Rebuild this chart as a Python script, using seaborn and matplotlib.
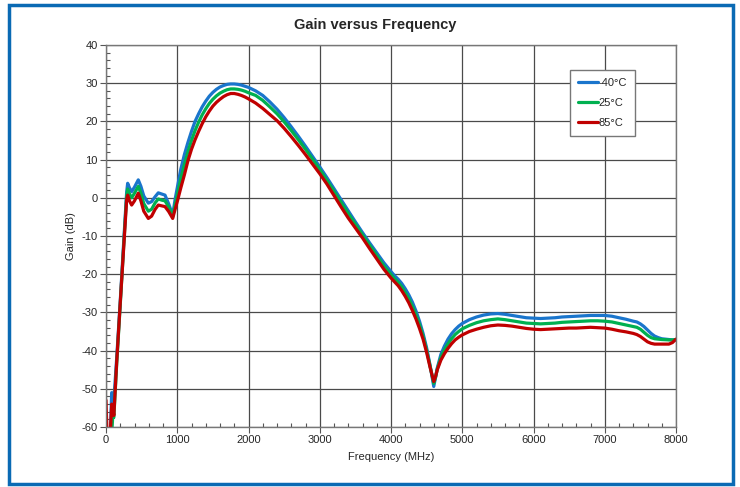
import numpy as np
import pandas as pd
import matplotlib
matplotlib.use("Agg")
import matplotlib.pyplot as plt
import matplotlib.patches as patches
from matplotlib.ticker import MultipleLocator
import seaborn as sns

nan = np.nan

freq_mhz = (
    [0, 15, 60, 80, 95, 110, 150, 200, 250, 290, 304, 330, 360, 400, 453, 490, 530,
     594, 640, 690, 734, 780, 828, 880, 936]
    + [970, 1000, 1050, 1100, 1150, 1200, 1250, 1300, 1350, 1400, 1450, 1500, 1550,
       1600, 1650, 1700, 1750, 1800, 1850, 1900, 1950, 2000]
    + [2100, 2200, 2300, 2400, 2500, 2600, 2700, 2800, 2900, 3000, 3100, 3200, 3300,
       3400, 3500, 3600, 3700, 3800, 3900, 4000]
    + [4050, 4100, 4150, 4200, 4250, 4300, 4350, 4400, 4450, 4500, 4550, 4600]
    + [4625, 4650, 4700, 4750, 4800, 4850, 4900, 4950, 5000]
    + [5100, 5200, 5300, 5400, 5500, 5600, 5700, 5800, 5900, 6000, 6100, 6200, 6300,
       6400, 6500, 6600, 6700, 6800, 6900, 7000, 7100, 7200, 7300, 7400]
    + [7450, 7500, 7550, 7600, 7650, 7700, 7750, 7800, 7900, 7950, 8000]
)

gain_m40 = (
    [nan, nan, -62, -51, -52, -53, -42, -27, -11, 1.5, 3.8, 2.6, 1.6, 2.8, 4.7, 3.0, 0.5,
     -1.4, -1.0, 0.3, 1.3, 1.0, 0.7, -1.6, -4.5]
    + [-0.4, 2.6, 7.5, 11.3, 14.5, 17.4, 20.0, 22.0, 23.8, 25.3, 26.6, 27.6, 28.4,
       29.0, 29.4, 29.7, 29.8, 29.8, 29.7, 29.5, 29.2, 28.9]
    + [28.0, 26.8, 25.1, 23.2, 21.0, 18.6, 16.1, 13.5, 10.8, 8.1, 5.3, 2.4, -0.5,
       -3.4, -6.3, -9.1, -11.8, -14.4, -17.0, -19.3]
    + [-20.4, -21.3, -22.4, -23.8, -25.4, -27.3, -29.6, -32.3, -35.5, -39.3, -44.0, -49.4]
    + [-47.0, -44.5, -41.0, -38.8, -37.0, -35.6, -34.5, -33.6, -32.9]
    + [-31.9, -31.2, -30.7, -30.4, -30.3, -30.5, -30.8, -31.1, -31.4, -31.5, -31.6, -31.5,
       -31.4, -31.2, -31.1, -31.0, -30.9, -30.8, -30.8, -30.8, -31.0, -31.4, -31.8, -32.3]
    + [-32.5, -33.0, -33.7, -34.6, -35.5, -36.2, -36.6, -36.9, -37.1, -37.2, -37.2]
)

gain_25 = (
    [nan, nan, -62, -62, -57, -57.5, -43.5, -28, -12, 0.5, 2.3, 1.0, 0.0, 1.2, 3.0, 1.2, -1.5,
     -3.5, -3.0, -1.3, -0.3, -0.6, -0.8, -2.4, -5.0]
    + [-1.8, 0.8, 5.0, 8.7, 12.1, 15.0, 17.6, 19.8, 21.7, 23.3, 24.7, 25.8, 26.7,
       27.4, 27.9, 28.3, 28.5, 28.5, 28.4, 28.2, 27.9, 27.5]
    + [26.8, 25.5, 23.8, 22.0, 19.9, 17.6, 15.2, 12.7, 10.1, 7.4, 4.6, 1.7, -1.2,
       -4.1, -6.9, -9.7, -12.4, -15.1, -17.8, -20.1]
    + [-21.2, -22.1, -23.3, -24.8, -26.4, -28.4, -30.6, -33.2, -36.2, -39.9, -44.2, -48.6]
    + [-47.0, -44.8, -41.8, -39.8, -38.2, -36.9, -35.8, -35.0, -34.3]
    + [-33.4, -32.7, -32.2, -31.9, -31.7, -31.9, -32.2, -32.5, -32.8, -32.9, -33.0, -32.9,
       -32.8, -32.6, -32.5, -32.4, -32.3, -32.2, -32.2, -32.3, -32.5, -32.9, -33.3, -33.7]
    + [-33.9, -34.4, -35.2, -36.0, -36.6, -36.9, -37.0, -37.1, -37.2, -37.2, -37.1]
)

gain_85 = (
    [-53, -62, -62, -54, -55, -57, -43, -27.5, -12.5, -0.5, 0.7, -0.8, -1.9, -0.8, 1.2, -0.8, -3.5,
     -5.4, -4.8, -3.0, -1.9, -2.1, -2.3, -3.6, -5.4]
    + [-3.0, -1.0, 2.6, 6.0, 9.7, 12.7, 15.2, 17.4, 19.4, 21.2, 22.7, 24.0, 25.0,
       25.8, 26.5, 27.0, 27.3, 27.3, 27.1, 26.8, 26.4, 25.9]
    + [24.8, 23.4, 21.8, 20.2, 18.2, 16.0, 13.7, 11.3, 8.8, 6.3, 3.6, 0.6, -2.4,
       -5.3, -7.9, -10.5, -13.3, -16.0, -18.7, -21.0]
    + [-22.0, -23.0, -24.3, -25.8, -27.5, -29.5, -31.7, -34.2, -37.0, -40.5, -44.5, -48.1]
    + [-46.8, -45.0, -42.5, -40.8, -39.4, -38.2, -37.2, -36.5, -35.9]
    + [-35.0, -34.4, -33.9, -33.5, -33.3, -33.4, -33.6, -33.9, -34.2, -34.4, -34.5, -34.4,
       -34.3, -34.2, -34.1, -34.1, -34.0, -33.9, -34.0, -34.1, -34.4, -34.8, -35.1, -35.5]
    + [-35.8, -36.3, -37.0, -37.7, -38.1, -38.3, -38.3, -38.3, -38.3, -37.9, -37.0]
)

series_labels = ["-40°C", "25°C", "85°C"]
series_colors = ["#1a75cc", "#00b050", "#c00000"]

df = pd.concat([
    pd.DataFrame({"Frequency": freq_mhz, "Gain": g, "Temp": lab})
    for g, lab in zip([gain_m40, gain_25, gain_85], series_labels)
], ignore_index=True)

sns.set_style("white")
plt.rcParams["font.family"] = ["Liberation Sans", "DejaVu Sans"]
plt.rcParams["axes.unicode_minus"] = False

fig = plt.figure(figsize=(7.4, 4.87), dpi=100)
ax = fig.add_axes([106/740, 1-427/487, 570/740, 382/487])

sns.lineplot(data=df, x="Frequency", y="Gain", hue="Temp", hue_order=series_labels,
             palette=series_colors, linewidth=2.3, ax=ax, sort=False)

ax.set_xlim(0, 8000)
ax.set_ylim(-60, 40)
ax.xaxis.set_major_locator(MultipleLocator(1000))
ax.xaxis.set_minor_locator(MultipleLocator(200))
ax.yaxis.set_major_locator(MultipleLocator(10))
ax.yaxis.set_minor_locator(MultipleLocator(2))
ax.grid(True, which="major", color="#4a4a4a", linewidth=0.9)
ax.set_axisbelow(True)
for s in ax.spines.values():
    s.set_color("#777777")
    s.set_linewidth(1.0)
ax.tick_params(which="major", direction="out", length=4, width=0.8, color="#555555",
               labelsize=8, pad=2, left=True, bottom=True)
ax.tick_params(which="minor", direction="in", length=3, width=0.8, color="#555555",
               left=True, bottom=True)
ax.set_xlabel("Frequency (MHz)", fontsize=8, labelpad=5)
ax.set_ylabel("Gain (dB)", fontsize=8, labelpad=4)

leg = ax.legend(loc="upper left", bbox_to_anchor=((570-106)/570, (427-70)/382),
                borderaxespad=0, fontsize=8, frameon=True, fancybox=False,
                edgecolor="#777777", framealpha=1,
                handlelength=1.8, handletextpad=0.1, borderpad=0.7, labelspacing=0.9)
leg.get_frame().set_linewidth(1.0)
for line in leg.get_lines():
    line.set_linewidth(2.3)

fig.text(375/740, 1-25/487, "Gain versus Frequency", ha="center", va="center",
         fontsize=10.5, fontweight="bold")

fig.patches.append(patches.Rectangle((9/740, 1-484/487), 724/740, 479/487,
                                     transform=fig.transFigure, fill=False,
                                     edgecolor="#0a6ab4", linewidth=2.5))

fig.savefig("out.png", dpi=100)
